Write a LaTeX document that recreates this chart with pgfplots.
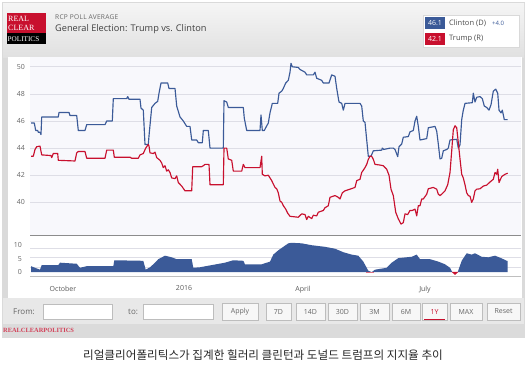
\documentclass[border=0pt]{standalone}
\usepackage{pgfplots}
\pgfplotsset{compat=1.18}
\usepackage{fontspec}
\setmainfont{Open Sans}
\newfontfamily\cjk{Noto Sans CJK KR}
\newfontfamily\rcpserif{Liberation Serif}
\definecolor{cblue}{HTML}{3B5A98}
\definecolor{cred}{HTML}{C8102E}
\definecolor{outer}{HTML}{DADADA}
\definecolor{plotbg}{HTML}{F8F8FC}
\definecolor{gridc}{HTML}{DEDEE6}
\definecolor{txtgray}{HTML}{666666}
\definecolor{btnbar}{HTML}{E8E8E8}
\definecolor{btnborder}{HTML}{BDBDBD}
\newcommand{\fs}[1]{\fontsize{#1}{#1}\selectfont}
\begin{document}
\begin{tikzpicture}
\useasboundingbox (0pt,0pt) rectangle (526pt,-370pt);
\fill[white] (0pt,0pt) rectangle (526pt,-370pt);
\begin{scope}[x=1pt,y=-1pt]
  % widget frame
  \fill[outer] (2,2) rectangle (525,338);
  \shade[top color=white!96!black, bottom color=white!88!black] (3,3) rectangle (524,57);
  \fill[white] (8,57) rectangle (522,298);
  \fill[btnbar] (3,298) rectangle (524,324);
  \fill[white!86!black] (2,324) rectangle (525,338);
  % logo
  \fill[cred] (7,13) rectangle (46,33);
  \fill[black] (7,33) rectangle (46,44);
  \node[anchor=west, text=white, inner sep=0pt, font=\rcpserif\fs{8}] at (8,18.5) {REAL};
  \node[anchor=west, text=white, inner sep=0pt, font=\rcpserif\fs{8}] at (8,27.5) {CLEAR};
  \node[anchor=west, text=white, inner sep=0pt, font=\rcpserif\fs{7.2}] at (7.5,38.8) {POLITICS};
  % titles
  \node[anchor=west, text=txtgray, inner sep=0pt, font=\addfontfeature{LetterSpace=4}\fs{6.6}] at (55,17) {RCP POLL AVERAGE};
  \node[anchor=west, text=black!75, inner sep=0pt, font=\fs{9.2}] at (55,29.5) {General Election: Trump vs. Clinton};
  % legend box
  \fill[white] (423,15) rectangle (519,47);
  \draw[white!85!black, line width=0.5pt] (423,15) rectangle (519,47);
  \fill[cblue] (425,17) rectangle (445,29);
  \fill[cred] (425,33) rectangle (445,45);
  \node[text=white, inner sep=0pt, font=\fs{7}] at (435,23) {46.1};
  \node[text=white, inner sep=0pt, font=\fs{7}] at (435,39) {42.1};
  \node[anchor=west, text=black!70, inner sep=0pt, font=\fs{7.5}] at (449,23) {Clinton (D)};
  \node[anchor=west, text=cblue, inner sep=0pt, font=\fs{6}] at (492,23.3) {+4.0};
  \node[anchor=west, text=black!70, inner sep=0pt, font=\fs{7.5}] at (449,39) {Trump (R)};
  % bottom controls
  \node[anchor=west, text=txtgray, inner sep=0pt, font=\fs{8}] at (13,312) {From:};
  \node[anchor=west, text=txtgray, inner sep=0pt, font=\fs{8}] at (128,312) {to:};
  \filldraw[fill=white, draw=btnborder, line width=0.5pt] (43,304) rectangle (112,319);
  \filldraw[fill=white, draw=btnborder, line width=0.5pt] (143,304) rectangle (213,319);
  \foreach \a/\b/\t in {222/258/Apply,266/291/7D,296/325/14D,328/357/30D,360/389/3M,392/420/6M,450/482/MAX,487/520/Reset}{
    \filldraw[fill=white!97!black, draw=btnborder, line width=0.5pt] (\a,303) rectangle (\b,320);
    \node[text=txtgray, inner sep=0pt, font=\fs{7}] at ({(\a+\b)/2},311.5) {\t};
  }
  \filldraw[fill=white!97!black, draw=btnborder, line width=0.5pt] (422,303) rectangle (447,320);
  \node[text=cred, inner sep=0pt, font=\fs{7}] at (434.5,311.5) {1Y};
  \draw[cred, line width=1pt] (424,319) -- (445,319);
  \node[anchor=west, text=cred!80, inner sep=0pt, font=\rcpserif\bfseries\fs{6.4}] at (3,330) {REALCLEARPOLITICS};
  % caption
  \node[text=black!85, inner sep=0pt, font=\cjk\fs{11.6}] at (263,355) {리얼클리어폴리틱스가 집계한 힐러리 클린턴과 도널드 트럼프의 지지율 추이};
\end{scope}

% main chart
\begin{axis}[at={(30pt,-235pt)}, anchor=south west, scale only axis,
  width=491pt, height=178pt,
  xmin=30, xmax=521, ymin=37.59, ymax=50.72,
  axis line style={draw=none}, major tick length=0pt,
  xtick=\empty, ytick={40,42,44,46,48,50},
  ymajorgrids, grid style={color=gridc, line width=0.7pt},
  axis background/.style={fill=plotbg},
  /pgf/number format/assume math mode=true,
  yticklabel style={font=\fs{7}, text=txtgray, anchor=east, inner sep=0pt, xshift=-5pt},
  clip=true]
\addplot[cblue, line width=1.15pt, line join=round] coordinates {
(31,45.85)(34.3,45.85)(35.7,45.3)(37.7,45.3)(38.3,45.17)(40,45.17)(41,45.0)(41.7,46.3)(58.3,46.3)(59,46.63)(69,46.63)(70,46.4)(76.7,46.4)(78.3,45.3)(85,45.3)(86.7,45.73)(105,45.73)(106.7,46.0)(112.3,46.0)(113.3,47.65)(126.7,47.65)(127.7,47.8)(129,47.6)(140,47.6)(141,46.95)(143.3,46.8)(145,44.27)(148.3,44.27)(149,44.9)(151.7,47.0)(155,47.3)(157.7,47.45)(159,48.05)(161,48.8)(167.7,48.8)(169,48.4)(175,48.4)(176.7,47.1)(180,46.3)(183.3,46.0)(186.7,45.6)(190,45.6)(191.7,44.6)(196.7,44.6)(198.3,44.4)(202.3,44.4)(203.3,45.3)(208.3,45.3)(210,44.0)(223.3,44.0)(224,47.5)(226.7,47.4)(228.3,47.0)(243.3,47.0)(244.3,46.2)(246.7,45.3)(260,45.3)(261,46.45)(262.3,45.3)(264.3,45.3)(265.7,45.5)(268.3,45.85)(270,46.6)(272.3,47.3)(277.7,47.3)(279,48.05)(281.7,48.2)(283.3,48.4)(285.7,48.8)(288.3,49.0)(290,49.6)(291,50.25)(292.3,50.0)(298.3,49.95)(300,49.8)(305,49.6)(306.7,49.4)(313.3,49.4)(315,49.6)(316.7,49.15)(321.7,49.0)(323.3,48.8)(329,48.8)(331.7,49.4)(335,49.3)(336.7,48.4)(339,47.4)(341.7,47.3)(343.3,46.8)(345,47.3)(360,47.3)(361.7,47.1)(363.3,46.0)(365,45.9)(366.7,44.6)(368.3,43.4)(371,43.4)(373.3,43.8)(381.7,43.85)(382.3,44.0)(383.7,43.9)(390,44.0)(393.3,44.0)(395,43.9)(397.7,43.37)(399,44.1)(401.7,44.3)(403.3,44.8)(408.3,44.85)(410,45.2)(413.3,45.3)(415,46.0)(416.7,46.35)(418.3,45.6)(420,44.6)(426.7,44.7)(428.3,45.5)(435,45.6)(436.7,45.25)(438.3,44.3)(440,43.2)(441.7,43.25)(443.3,43.8)(446.7,43.9)(448.3,44.0)(450,44.6)(456.7,44.65)(458.3,44.0)(460,44.25)(461.7,46.1)(463.3,46.8)(465,47.3)(472.3,47.35)(473.3,48.05)(475,47.4)(476.7,47.75)(480,47.8)(482.3,47.65)(484.3,47.1)(486.7,47.0)(489,46.8)(491,47.2)(493.3,48.2)(495.7,48.35)(497.7,48.05)(499,46.8)(501,46.6)(502.3,46.8)(504.3,46.1)(507.7,46.1)};
\addplot[cred, line width=1.15pt, line join=round] coordinates {
(31,43.4)(33.3,43.4)(35,43.9)(36.7,44.1)(40,44.15)(41.7,43.5)(51,43.45)(51.7,43.3)(53.3,43.6)(57.7,43.6)(58.3,43.1)(75,43.05)(76.7,43.65)(78.3,43.75)(85,43.75)(86.7,43.25)(105,43.25)(106.7,43.85)(113.3,43.85)(114.3,43.33)(130,43.33)(131.7,43.25)(138.3,43.25)(140,43.5)(143.3,43.6)(145.7,44.0)(148.3,44.27)(149,44.15)(150,43.65)(153.3,43.6)(155,43.7)(156.7,43.3)(160,43.1)(161.7,42.9)(163.3,42.56)(165,42.7)(166.7,42.3)(168.3,42.4)(170,42.2)(171.7,41.8)(175,41.75)(176.7,41.95)(178.3,41.46)(181.7,41.2)(185,40.85)(191.7,40.85)(192.7,42.63)(201.7,42.63)(203.3,42.7)(205,42.8)(209,42.8)(210,41.3)(223.3,41.3)(224,44.0)(226.7,44.0)(228.3,43.2)(231.7,43.1)(233.3,42.3)(241.7,42.3)(243.3,42.8)(245,42.56)(260,42.56)(261.7,43.4)(262.3,42.07)(265,41.95)(268.3,42.0)(271.7,41.6)(275,41.1)(276.7,41.0)(278.3,40.7)(280,40.1)(281.7,40.0)(283.3,39.76)(285.7,39.5)(287.7,39.2)(290,38.97)(298.3,38.9)(301.7,39.15)(305,39.1)(306.7,38.73)(308.3,38.97)(311.7,38.8)(313.3,39.05)(316.7,39.0)(318.3,39.27)(323.3,39.4)(325,39.6)(328.3,39.75)(330,40.37)(335,40.5)(338.3,40.37)(340,40.25)(342.3,40.7)(345,40.85)(350,40.97)(355,41.1)(356.7,41.6)(360,41.7)(361.7,42.2)(365,42.56)(366.7,42.8)(368.3,43.17)(370,43.4)(371.7,43.4)(373.3,43.17)(375,42.8)(380,42.75)(383.3,42.7)(386.7,42.44)(389,42.0)(391,40.97)(393.3,40.5)(395.7,39.27)(398.3,38.78)(401,38.4)(403.3,38.5)(405,39.15)(407.7,39.1)(410,39.4)(412.3,39.4)(415,39.5)(416.7,39.0)(418.3,39.75)(420,39.75)(421.7,40.25)(423.3,40.25)(426.7,40.6)(428.3,41.0)(433.3,41.1)(436.7,40.97)(438.3,40.6)(440,40.5)(441.7,40.6)(445,40.85)(447.7,41.3)(450,42.2)(451.7,43.8)(453.3,45.35)(455,45.65)(456.7,45.5)(458.3,44.4)(460,43.2)(461.7,42.07)(463.3,41.8)(465,41.3)(466.7,40.7)(468.3,40.5)(470,40.45)(471.7,40.0)(473.3,40.25)(475,40.85)(476.7,40.97)(480,41.0)(483.3,41.2)(486.7,41.27)(490,41.5)(493.3,41.7)(495,42.2)(496.7,42.07)(497.7,42.44)(499,41.46)(501.7,41.9)(505,42.07)(507.7,42.15)};
\end{axis}

% navigator (spread)
\begin{axis}[at={(30pt,-276.7pt)}, anchor=south west, scale only axis,
  width=491pt, height=41.7pt,
  xmin=30, xmax=521, ymin=-1.72, ymax=13.8,
  axis line style={draw=none}, major tick length=0pt,
  ytick={0,5,10}, xtick={63,184,303,425}, xticklabels={October,2016,April,July},
  extra y ticks={1.95,5.4,8.7}, extra y tick labels={},
  extra y tick style={grid=major, grid style={color=gridc, line width=0.6pt}},
  /pgf/number format/assume math mode=true,
  yticklabel style={font=\fs{7}, text=txtgray, anchor=east, inner sep=0pt, xshift=-8pt},
  xticklabel style={font=\fs{7}, text=black!65, anchor=north, inner sep=0pt, yshift=-9pt},
  clip=true]
\addplot[draw=none, fill=cblue] coordinates {
(31,2.2)(35,1.6)(40,0.9)(41.7,2.6)(58.3,2.6)(60,3.5)(76.7,3.1)(80,1.6)(86.7,2.2)(113.3,2.2)(114.3,4.4)(143.3,4.2)(145.7,0.9)(150,1.8)(153.3,2.9)(158.3,4.8)(165,6.1)(171.7,5.5)(176.7,4.8)(191.7,4.8)(193.3,1.6)(200,1.8)(211.7,2.6)(225,3.5)(233.3,4.4)(243.3,4.2)(245,2.9)(261.7,2.9)(270,3.9)(273.3,6.5)(278.3,8.1)(288.3,10.7)(291.7,10.9)(301.7,10.7)(311.7,10.0)(325,9.4)(335,8.7)(343.3,7.4)(351.7,6.5)(358.3,6.1)(363.3,3.9)(368.3,0.5)(371.7,0)(375,0.9)(386.7,1.6)(391.7,3.5)(398.3,5.2)(411.7,5.7)(416.7,6.5)(420,4.8)(430,4.8)(438.3,3.9)(445,2.9)(450,1.6)(452.3,0)(457.7,0)(461.7,4.2)(466.7,7.0)(471.7,6.5)(475,7.0)(481.7,5.7)(488.3,5.5)(495,6.1)(501.7,5.1)(506.7,4.2)(507.7,4.2)} \closedcycle;
\addplot[draw=cred, fill=cred, line width=0.5pt] coordinates {(452.3,0)(455,-0.9)(457.7,0)} \closedcycle;
\addplot[cred!60, line width=0.6pt] coordinates {(366,0)(374,0)};
\end{axis}

\begin{scope}[x=1pt,y=-1pt]
  \draw[black!45, line width=0.9pt] (30,235) -- (521,235);
  \draw[white!75!black, line width=0.6pt] (30,276.7) -- (521,276.7);
\end{scope}
\end{tikzpicture}
\end{document}
